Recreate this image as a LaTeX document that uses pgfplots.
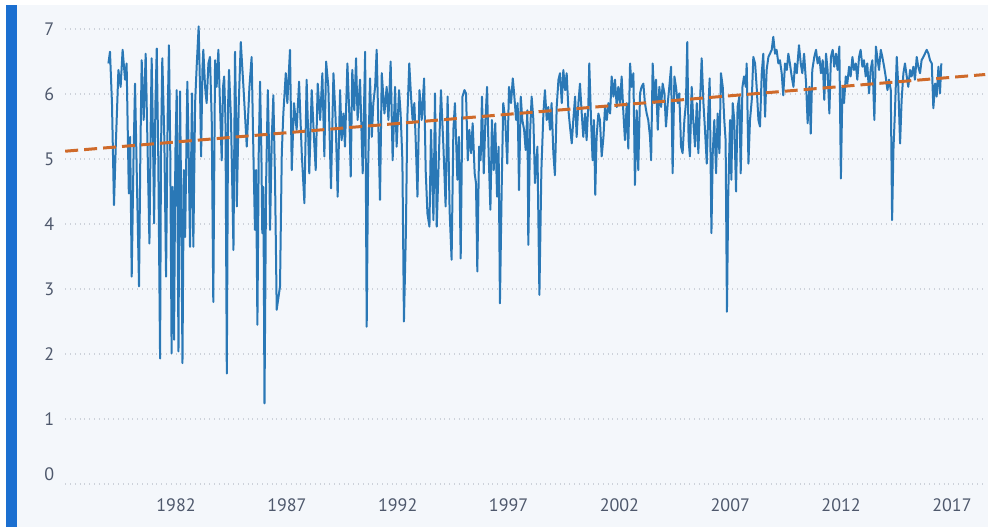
\documentclass[border=0pt]{standalone}
\usepackage{pgfplots}
\pgfplotsset{compat=1.18}
\usepackage{fontspec}
\setmainfont{PT Sans}
\definecolor{bgc}{HTML}{F4F7FB}
\definecolor{stripe}{HTML}{1B6FD0}
\definecolor{lineblue}{HTML}{2A78B6}
\definecolor{trend}{HTML}{CF6A2A}
\definecolor{gridc}{HTML}{CDD2DA}
\definecolor{labc}{HTML}{4E586C}
\begin{document}
\begin{tikzpicture}
\fill[white] (-32.6pt,-21.5pt) rectangle (461.4pt,242pt);
\fill[bgc] (-24.1pt,-21.5pt) rectangle (461.4pt,239.5pt);
\fill[stripe] (-29.6pt,-21.5pt) rectangle (-24.1pt,239.5pt);
\begin{axis}[
  at={(0,0)}, anchor=south west,
  scale only axis, width=460pt, height=230.75pt,
  xmin=1977, xmax=2018.5, ymin=0, ymax=7.1,
  axis line style={draw=none},
  major tick length=0pt,
  xtick={1982,1987,...,2017},
  ytick={1,2,...,7},
  extra y ticks={0},
  extra y tick style={yticklabel style={yshift=5pt}},
  ymajorgrids,
  grid style={gridc, dotted, line width=0.6pt},
  /pgf/number format/assume math mode=true,
  /pgf/number format/1000 sep={},
  tick label style={font=\fontsize{9}{10}\selectfont, text=labc},
  yticklabel style={anchor=east, xshift=-2pt},
  xticklabel style={anchor=north, yshift=-4pt},
  clip=false,
]
\addplot[lineblue, line width=1pt, line join=round] coordinates {
(1978.95,6.47)(1979.02,6.65)(1979.11,5.86)(1979.20,4.29)(1979.28,5.19)(1979.40,6.37)(1979.50,6.11)(1979.59,6.68)(1979.70,6.22)(1979.77,6.47)
(1979.87,4.47)(1979.93,5.34)(1980.00,3.19)(1980.08,4.98)(1980.15,6.16)(1980.24,4.57)(1980.33,3.04)(1980.39,5.09)(1980.45,6.52)(1980.54,5.60)
(1980.63,6.62)(1980.72,5.09)(1980.80,3.70)(1980.86,5.60)(1980.90,6.55)(1980.96,5.34)(1981.01,4.01)(1981.07,5.86)(1981.13,6.70)(1981.20,4.98)
(1981.28,1.93)(1981.32,5.09)(1981.38,6.55)(1981.47,5.34)(1981.55,3.19)(1981.62,5.60)(1981.68,6.75)(1981.74,5.09)(1981.80,2.01)(1981.85,4.57)
(1981.91,2.22)(1981.97,5.09)(1982.03,6.06)(1982.11,2.04)(1982.15,4.83)(1982.18,6.04)(1982.24,4.06)(1982.29,1.86)(1982.35,4.83)(1982.41,3.80)
(1982.51,6.19)(1982.57,5.09)(1982.63,3.65)(1982.72,6.01)(1982.78,3.65)(1982.86,5.86)(1982.93,6.42)(1983.02,7.04)(1983.08,6.11)(1983.13,5.04)
(1983.19,6.37)(1983.23,6.68)(1983.31,6.11)(1983.38,5.86)(1983.46,6.47)(1983.53,6.57)(1983.61,5.60)(1983.68,2.80)(1983.76,6.52)(1983.83,6.11)
(1983.91,6.68)(1983.98,5.86)(1984.06,4.98)(1984.12,6.11)(1984.17,6.27)(1984.23,5.60)(1984.29,1.70)(1984.35,5.86)(1984.39,6.37)(1984.48,5.60)
(1984.59,3.60)(1984.66,6.65)(1984.71,5.60)(1984.74,4.27)(1984.83,5.86)(1984.92,6.80)(1985.04,6.11)(1985.19,5.19)(1985.31,6.11)(1985.41,6.57)
(1985.49,5.09)(1985.56,3.91)(1985.61,4.83)(1985.67,2.45)(1985.73,5.09)(1985.79,6.19)(1985.85,5.09)(1985.89,3.86)(1985.94,4.57)(1985.99,1.24)
(1986.06,4.57)(1986.14,6.06)(1986.20,5.09)(1986.24,3.91)(1986.32,5.34)(1986.39,5.98)(1986.47,4.57)(1986.54,2.68)(1986.69,3.04)(1986.77,5.09)
(1986.84,5.70)(1986.95,6.32)(1987.02,5.86)(1987.14,6.68)(1987.22,4.83)(1987.32,5.86)(1987.44,5.45)(1987.55,6.19)(1987.67,5.09)(1987.79,4.32)
(1987.89,6.22)(1988.01,4.78)(1988.12,6.06)(1988.22,5.34)(1988.30,4.83)(1988.39,6.16)(1988.50,5.60)(1988.60,6.32)(1988.69,5.04)(1988.77,6.50)
(1988.87,6.11)(1988.99,4.55)(1989.10,6.32)(1989.20,5.60)(1989.29,4.42)(1989.40,6.06)(1989.47,5.29)(1989.55,5.70)(1989.62,5.19)(1989.73,6.47)
(1989.82,5.65)(1989.88,4.73)(1989.95,6.37)(1990.04,5.75)(1990.12,6.55)(1990.19,5.60)(1990.30,6.22)(1990.42,4.78)(1990.53,6.65)(1990.60,2.42)
(1990.66,4.78)(1990.75,6.24)(1990.83,5.34)(1990.90,5.86)(1990.98,6.11)(1991.05,6.68)(1991.13,5.45)(1991.20,4.37)(1991.28,6.32)(1991.40,5.70)
(1991.50,6.11)(1991.58,5.60)(1991.68,6.50)(1991.77,4.98)(1991.88,6.11)(1991.95,5.19)(1992.06,6.06)(1992.13,5.70)(1992.21,4.98)(1992.28,2.50)
(1992.37,3.91)(1992.43,5.60)(1992.52,6.47)(1992.60,5.96)(1992.67,5.60)(1992.75,5.86)(1992.83,5.09)(1992.89,4.42)(1992.98,6.06)(1993.08,5.60)
(1993.19,6.24)(1993.26,4.83)(1993.34,4.16)(1993.43,3.96)(1993.50,5.45)(1993.61,4.06)(1993.68,6.01)(1993.76,3.96)(1993.86,5.09)(1993.95,6.06)
(1994.06,5.19)(1994.16,4.27)(1994.25,5.96)(1994.34,4.20)(1994.43,3.45)(1994.51,5.45)(1994.58,5.86)(1994.69,4.68)(1994.76,5.34)(1994.84,3.47)
(1994.92,5.96)(1995.01,6.06)(1995.08,6.01)(1995.16,4.98)(1995.23,5.45)(1995.31,5.09)(1995.38,5.55)(1995.47,4.78)(1995.53,4.63)(1995.59,3.27)
(1995.67,5.19)(1995.74,4.98)(1995.80,5.96)(1995.88,4.78)(1995.95,5.55)(1996.03,6.11)(1996.10,5.09)(1996.18,4.22)(1996.25,5.60)(1996.33,4.83)
(1996.40,5.55)(1996.48,4.42)(1996.55,5.19)(1996.61,2.78)(1996.69,4.57)(1996.76,5.86)(1996.85,5.60)(1996.94,4.93)(1997.02,6.11)(1997.11,5.86)
(1997.19,6.24)(1997.25,6.01)(1997.34,5.60)(1997.41,5.86)(1997.47,4.52)(1997.55,5.96)(1997.62,5.60)(1997.70,5.45)(1997.77,5.14)(1997.85,5.75)
(1997.89,3.68)(1997.97,5.40)(1998.04,5.96)(1998.12,5.60)(1998.19,4.63)(1998.30,5.19)(1998.39,2.91)(1998.48,4.83)(1998.57,5.70)(1998.64,6.06)
(1998.72,5.60)(1998.79,5.80)(1998.87,5.45)(1998.94,5.86)(1999.02,5.09)(1999.09,4.75)(1999.17,5.80)(1999.25,6.22)(1999.32,6.32)(1999.40,5.86)
(1999.47,6.37)(1999.55,6.06)(1999.62,6.32)(1999.70,5.75)(1999.77,5.50)(1999.85,5.24)(1999.92,5.60)(2000.00,5.96)(2000.07,5.34)(2000.15,5.86)
(2000.22,6.16)(2000.30,5.70)(2000.37,5.34)(2000.45,5.70)(2000.52,5.29)(2000.60,5.86)(2000.64,6.47)(2000.72,5.60)(2000.79,4.98)(2000.85,5.60)
(2000.91,4.45)(2000.97,5.34)(2001.05,5.70)(2001.12,5.60)(2001.20,5.04)(2001.28,5.34)(2001.35,5.80)(2001.43,5.60)(2001.50,5.86)(2001.58,5.70)
(2001.65,6.27)(2001.73,5.96)(2001.80,6.22)(2001.88,5.80)(2001.95,6.11)(2002.03,5.86)(2002.10,6.27)(2002.18,5.70)(2002.25,5.29)(2002.33,5.86)
(2002.40,5.16)(2002.48,6.47)(2002.55,6.11)(2002.63,6.32)(2002.70,4.60)(2002.78,5.75)(2002.85,4.83)(2002.93,6.01)(2003.00,6.11)(2003.08,6.16)
(2003.15,5.86)(2003.23,5.70)(2003.30,5.60)(2003.38,5.34)(2003.43,4.98)(2003.50,6.47)(2003.58,5.86)(2003.65,6.22)(2003.73,5.45)(2003.80,6.11)
(2003.88,5.80)(2003.95,6.16)(2004.03,6.01)(2004.10,5.50)(2004.18,5.86)(2004.25,6.11)(2004.33,6.42)(2004.40,4.78)(2004.48,6.27)(2004.55,6.11)
(2004.63,5.86)(2004.70,6.01)(2004.78,5.19)(2004.85,5.09)(2004.93,5.60)(2005.00,5.86)(2005.06,6.80)(2005.12,5.29)(2005.18,5.04)(2005.26,6.11)
(2005.33,5.60)(2005.41,5.19)(2005.49,5.86)(2005.56,5.09)(2005.64,5.91)(2005.71,6.55)(2005.79,5.86)(2005.86,5.45)(2005.94,4.93)(2006.01,5.75)
(2006.07,6.24)(2006.15,3.86)(2006.21,5.09)(2006.28,5.60)(2006.36,4.78)(2006.43,5.70)(2006.51,5.09)(2006.58,6.32)(2006.66,6.11)(2006.73,5.60)
(2006.79,5.29)(2006.85,2.65)(2006.91,4.47)(2006.99,5.60)(2007.05,4.68)(2007.11,5.86)(2007.18,5.60)(2007.26,4.50)(2007.33,5.80)(2007.41,5.96)
(2007.47,4.78)(2007.55,6.11)(2007.62,6.27)(2007.70,6.11)(2007.74,6.47)(2007.82,4.93)(2007.89,5.60)(2007.97,5.91)(2008.04,6.57)(2008.12,6.47)
(2008.19,6.11)(2008.27,5.60)(2008.34,5.50)(2008.42,6.32)(2008.49,6.62)(2008.57,5.65)(2008.64,6.37)(2008.72,6.57)(2008.79,6.62)(2008.87,6.68)
(2008.94,6.88)(2009.02,6.62)(2009.09,6.68)(2009.17,6.47)(2009.24,6.52)(2009.32,6.32)(2009.39,5.98)(2009.47,6.47)(2009.55,6.37)(2009.62,6.62)
(2009.69,6.47)(2009.77,6.27)(2009.85,6.11)(2009.92,6.47)(2010.00,6.32)(2010.10,6.75)(2010.18,6.47)(2010.25,6.32)(2010.33,6.62)(2010.42,6.16)
(2010.49,5.55)(2010.57,6.11)(2010.63,5.39)(2010.70,6.37)(2010.79,6.57)(2010.87,6.68)(2010.94,6.47)(2011.02,6.57)(2011.09,6.32)(2011.17,6.52)
(2011.24,5.91)(2011.32,6.62)(2011.39,6.37)(2011.47,5.70)(2011.54,6.57)(2011.62,6.68)(2011.69,6.42)(2011.77,6.62)(2011.84,6.37)(2011.92,6.73)
(2011.99,4.70)(2012.06,6.11)(2012.13,5.86)(2012.21,6.27)(2012.28,6.16)(2012.36,6.42)(2012.43,6.27)(2012.51,6.57)(2012.58,6.37)(2012.66,6.47)
(2012.73,6.22)(2012.81,6.57)(2012.88,6.68)(2012.96,6.42)(2013.03,6.52)(2013.11,6.27)(2013.18,6.47)(2013.26,6.01)(2013.33,6.37)(2013.41,6.52)
(2013.50,5.60)(2013.57,6.73)(2013.63,6.57)(2013.71,6.37)(2013.79,6.68)(2013.86,6.57)(2013.94,6.42)(2014.01,6.27)(2014.09,6.06)(2014.16,6.22)
(2014.24,6.06)(2014.30,4.06)(2014.36,5.14)(2014.43,5.75)(2014.51,6.57)(2014.58,6.11)(2014.66,5.24)(2014.73,5.91)(2014.81,6.32)(2014.88,6.47)
(2014.96,6.27)(2015.03,6.11)(2015.11,6.37)(2015.18,6.27)(2015.26,6.42)(2015.33,6.22)(2015.41,6.57)(2015.48,6.42)(2015.56,6.32)(2015.63,6.52)
(2015.71,6.57)(2015.78,6.62)(2015.86,6.68)(2015.94,6.62)(2016.01,6.52)(2016.09,6.47)(2016.16,5.78)(2016.24,6.16)(2016.31,5.96)(2016.39,6.42)
(2016.46,6.01)(2016.52,6.47)
};
\addplot[trend, line width=1.5pt, dash pattern=on 6.5pt off 3pt] coordinates {(1977,5.12)(2018.5,6.30)};
\end{axis}
\end{tikzpicture}
\end{document}
